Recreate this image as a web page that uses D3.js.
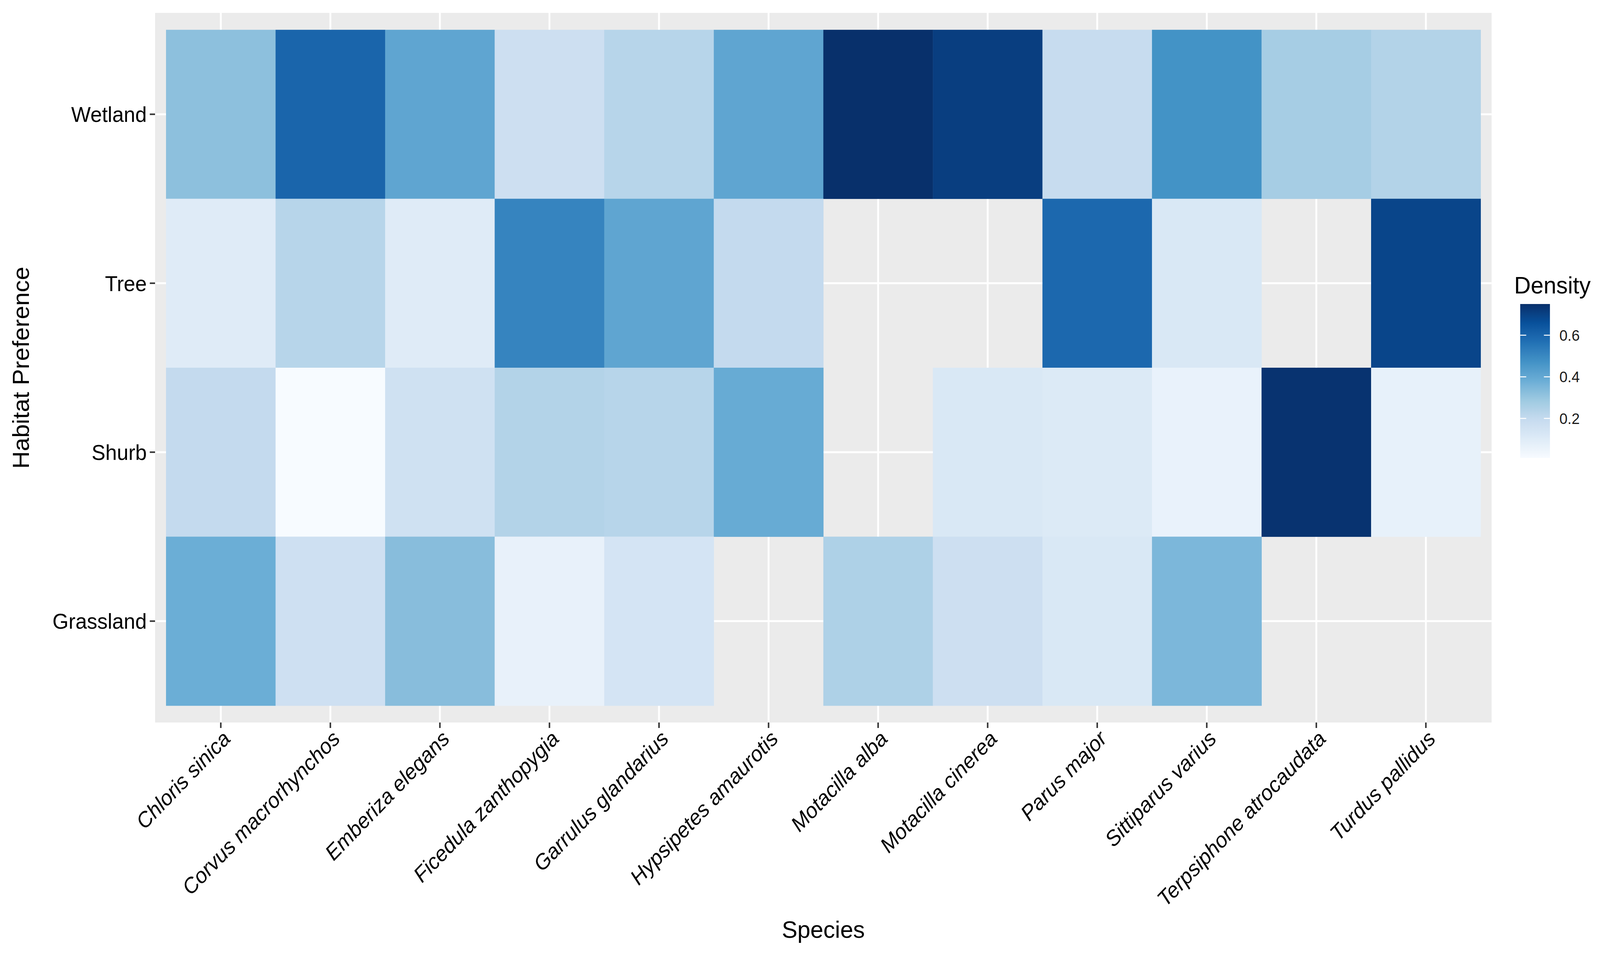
<!DOCTYPE html>
<html>
<head>
<meta charset="utf-8">
<script src="https://cdn.jsdelivr.net/npm/d3@7"></script>
<style>
  html, body { margin: 0; padding: 0; background: #ffffff; overflow: hidden; }
  svg { display: block; width: 100vw; height: 100vh; }
  text { font-family: "Liberation Sans", Arial, Helvetica, sans-serif; }
</style>
</head>
<body>
<svg id="chart" viewBox="0 0 4251 2444" preserveAspectRatio="none"></svg>
<script>
// ---- data ----
const species = ["Chloris sinica", "Corvus macrorhynchos", "Emberiza elegans", "Ficedula zanthopygia",
  "Garrulus glandarius", "Hypsipetes amaurotis", "Motacilla alba", "Motacilla cinerea",
  "Parus major", "Sittiparus varius", "Terpsiphone atrocaudata", "Turdus pallidus"];
const habitats = ["Wetland", "Tree", "Shurb", "Grassland"];   // top to bottom
const wetland   = [0.32, 0.60, 0.41, 0.17, 0.23, 0.41, 0.75, 0.71, 0.19, 0.47, 0.27, 0.24];
const tree      = [0.10, 0.23, 0.10, 0.51, 0.41, 0.20, null, null, 0.59, 0.12, null, 0.69];
const shurb     = [0.20, 0.01, 0.16, 0.24, 0.23, 0.39, null, 0.12, 0.11, 0.06, 0.74, 0.07];
const grassland = [0.38, 0.165, 0.33, 0.065, 0.14, null, 0.25, 0.17, 0.12, 0.35, null, null];
const legendTicks = [0.2, 0.4, 0.6];
const blues9 = ["#f7fbff", "#deebf7", "#c6dbef", "#9ecae1", "#6baed6", "#4292c6", "#2171b5", "#08519c", "#08306b"];

const seriesByHabitat = { Wetland: wetland, Tree: tree, Shurb: shurb, Grassland: grassland };
const cells = [];
habitats.forEach(h => {
  seriesByHabitat[h].forEach((v, i) => {
    if (v !== null) cells.push({ habitat: h, species: species[i], value: v });
  });
});

// ---- layout ----
const svg = d3.select("#chart");
const panel = { left: 412, right: 3963, top: 33, bottom: 1849 };

const x = d3.scaleBand().domain(species).range([panel.left, panel.right]).paddingInner(0).paddingOuter(0.1);
const y = d3.scaleBand().domain(habitats).range([panel.top, panel.bottom]).paddingInner(0).paddingOuter(0.1);

const vals = cells.map(d => d.value);
const vmin = d3.min(vals), vmax = d3.max(vals);
const color = d3.scaleLinear()
  .domain(blues9.map((c, i) => vmin + (vmax - vmin) * i / (blues9.length - 1)))
  .range(blues9)
  .interpolate(d3.interpolateLab);

svg.append("rect").attr("x", 0).attr("y", 0).attr("width", 4251).attr("height", 2444).attr("fill", "#ffffff");

// panel background
svg.append("rect")
  .attr("x", panel.left).attr("y", panel.top)
  .attr("width", panel.right - panel.left).attr("height", panel.bottom - panel.top)
  .attr("fill", "#ebebeb");

// grid lines
const grid = svg.append("g");
grid.selectAll("line.vx").data(species).join("line")
  .attr("x1", d => x(d) + x.bandwidth() / 2).attr("x2", d => x(d) + x.bandwidth() / 2)
  .attr("y1", panel.top).attr("y2", panel.bottom)
  .attr("stroke", "#ffffff").attr("stroke-width", 5);
grid.selectAll("line.hy").data(habitats).join("line")
  .attr("y1", d => y(d) + y.bandwidth() / 2).attr("y2", d => y(d) + y.bandwidth() / 2)
  .attr("x1", panel.left).attr("x2", panel.right)
  .attr("stroke", "#ffffff").attr("stroke-width", 5);

// tiles
svg.append("g").selectAll("rect").data(cells).join("rect")
  .attr("x", d => x(d.species))
  .attr("y", d => y(d.habitat))
  .attr("width", x.bandwidth() + 0.5)
  .attr("height", y.bandwidth() + 0.5)
  .attr("fill", d => color(d.value));

// x axis
const xAxis = svg.append("g")
  .attr("transform", `translate(0,${panel.bottom})`)
  .call(d3.axisBottom(x).tickSize(14).tickSizeOuter(0));
xAxis.select(".domain").remove();
xAxis.selectAll(".tick line").attr("stroke", "#333333").attr("stroke-width", 4);
xAxis.selectAll(".tick text")
  .attr("font-size", 55)
  .attr("font-style", "italic")
  .attr("fill", "#000000")
  .attr("text-anchor", "end")
  .attr("y", 0).attr("x", 0).attr("dy", "0.74em")
  .attr("transform", "translate(0,16) rotate(-45)");

// y axis
const yAxis = svg.append("g")
  .attr("transform", `translate(${panel.left},0)`)
  .call(d3.axisLeft(y).tickSize(14).tickSizeOuter(0).tickPadding(8));
yAxis.select(".domain").remove();
yAxis.selectAll(".tick line").attr("stroke", "#333333").attr("stroke-width", 4);
yAxis.selectAll(".tick text")
  .attr("font-size", 55)
  .attr("fill", "#000000")
  .attr("dy", "0.36em");

// axis titles
svg.append("text")
  .attr("x", (panel.left + panel.right) / 2).attr("y", 2400)
  .attr("text-anchor", "middle").attr("font-size", 62).attr("fill", "#000000")
  .text("Species");
svg.append("text")
  .attr("transform", `translate(77,${(panel.top + panel.bottom) / 2}) rotate(-90)`)
  .attr("text-anchor", "middle").attr("font-size", 62).attr("fill", "#000000")
  .text("Habitat Preference");

// legend
const leg = { x: 4039, y: 778, w: 79, h: 394 };
const defs = svg.append("defs");
const grad = defs.append("linearGradient").attr("id", "lg")
  .attr("x1", "0").attr("y1", "1").attr("x2", "0").attr("y2", "0");
d3.range(0, 1.0001, 0.02).forEach(t => {
  grad.append("stop").attr("offset", t).attr("stop-color", color(vmin + t * (vmax - vmin)));
});
svg.append("text")
  .attr("x", 4023).attr("y", 751)
  .attr("font-size", 61).attr("fill", "#000000")
  .text("Density");
svg.append("rect")
  .attr("x", leg.x).attr("y", leg.y).attr("width", leg.w).attr("height", leg.h)
  .attr("fill", "url(#lg)");
const ly = d3.scaleLinear().domain([vmin, vmax]).range([leg.y + leg.h, leg.y]);
const lt = svg.append("g");
legendTicks.forEach(v => {
  const yy = ly(v);
  lt.append("line").attr("x1", leg.x).attr("x2", leg.x + 16).attr("y1", yy).attr("y2", yy)
    .attr("stroke", "#ffffff").attr("stroke-width", 2.5);
  lt.append("line").attr("x1", leg.x + leg.w - 16).attr("x2", leg.x + leg.w).attr("y1", yy).attr("y2", yy)
    .attr("stroke", "#ffffff").attr("stroke-width", 2.5);
  lt.append("text").attr("x", 4143).attr("y", yy).attr("dy", "0.36em")
    .attr("font-size", 39).attr("fill", "#1a1a1a")
    .text(d3.format(".1f")(v));
});
</script>
</body>
</html>
